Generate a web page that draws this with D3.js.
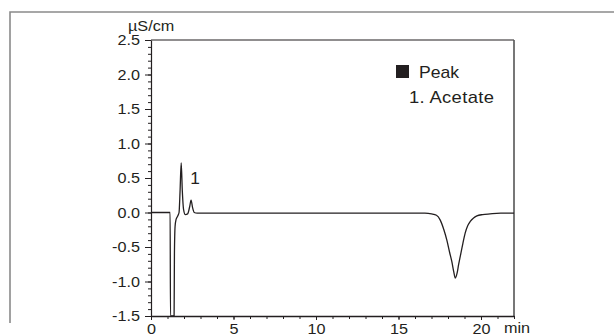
<!DOCTYPE html>
<html><head><meta charset="utf-8">
<script src="https://cdn.jsdelivr.net/npm/d3@7"></script>
<style>
html,body{margin:0;padding:0;background:#fff;}
text{font-family:"Liberation Sans",Arial,Helvetica,sans-serif;fill:#231f20;}
</style>
</head><body>
<svg id="chart" width="614" height="335"></svg>
<script>
// ---- data ----
const times  = [0, 1.16, 1.18, 1.40, 1.42, 1.46, 1.52, 1.62, 1.70, 1.76, 1.83, 1.90, 1.97, 2.08, 2.22, 2.34, 2.43, 2.52, 2.62, 2.80, 5, 10, 15, 16.6, 17.0, 17.3, 17.53, 17.75, 17.93, 18.10, 18.23, 18.35, 18.44, 18.55, 18.64, 18.74, 18.90, 19.04, 19.20, 19.35, 19.55, 19.75, 20.1, 20.55, 21.2, 22];
const signal = [0, 0, -1.5, -1.5, -0.6, -0.2, -0.1, -0.05, 0.0, 0.3, 0.72, 0.3, 0.05, -0.03, -0.02, 0.08, 0.18, 0.07, 0.0, -0.01, -0.01, -0.01, -0.01, -0.01, -0.02, -0.04, -0.11, -0.25, -0.40, -0.58, -0.71, -0.86, -0.95, -0.88, -0.76, -0.64, -0.45, -0.30, -0.19, -0.13, -0.08, -0.05, -0.03, -0.02, -0.01, -0.01];
const yTickValues = [-1.5, -1.0, -0.5, 0.0, 0.5, 1.0, 1.5, 2.0, 2.5];
const xTickValues = [0, 5, 10, 15, 20];
const peakLabels = [{t: 2.38, v: 0.42, label: "1"}];
const legendTitle = "Peak";
const legendItems = ["1. Acetate"];
const yUnit = "µS/cm";
const xUnit = "min";

// ---- layout ----
const svg = d3.select("#chart");
const L = 151, R = 514, T = 40, B = 316;
const SX = 1.08, FS = 15;
const x = d3.scaleLinear().domain([0, 22]).range([L, R]);
const y = d3.scaleLinear().domain([-1.5, 2.5]).range([B, T]);

function stretch(sel, sx) {
  sel.each(function () {
    const t = d3.select(this);
    const tx = +t.attr("x") || 0, ty = +t.attr("y") || 0;
    t.attr("x", 0).attr("y", 0).attr("transform", `translate(${tx},${ty}) scale(${sx},1)`);
  });
}

// outer frame
svg.append("path").attr("d", "M10,323V12H620").attr("fill", "none")
  .attr("stroke", "#8a8a8a").attr("stroke-width", 1.6);

// plot frame top / right
svg.append("line").attr("x1", L).attr("x2", R).attr("y1", T).attr("y2", T)
  .attr("stroke", "#231f20").attr("stroke-width", 1.2);
svg.append("line").attr("x1", R).attr("x2", R).attr("y1", T).attr("y2", B)
  .attr("stroke", "#555").attr("stroke-width", 1.6);

// clip
svg.append("clipPath").attr("id", "clip").append("rect")
  .attr("x", L).attr("y", T).attr("width", R - L).attr("height", B - T);

// curve
const pts = times.map((t, i) => [t, signal[i]]);
const line = d3.line().x(d => x(d[0])).y(d => y(d[1])).curve(d3.curveMonotoneX);
svg.append("path").datum(pts).attr("d", line).attr("fill", "none")
  .attr("stroke", "#231f20").attr("stroke-width", 1.3).attr("clip-path", "url(#clip)");

// y minor ticks
const yMinor = d3.range(-15, 26).map(v => v / 10);
svg.append("g").attr("transform", `translate(${L},0)`)
  .call(d3.axisLeft(y).tickValues(yMinor).tickSize(3).tickFormat(""))
  .call(g => g.select(".domain").remove())
  .selectAll("line").attr("stroke", "#231f20");
// y major axis
const gy = svg.append("g").attr("transform", `translate(${L},0)`)
  .call(d3.axisLeft(y).tickValues(yTickValues).tickSizeInner(6).tickSizeOuter(0)
    .tickPadding(5).tickFormat(d3.format(".1f")));
gy.select(".domain").attr("stroke", "#231f20").attr("stroke-width", 1.2);
gy.selectAll("line").attr("stroke", "#231f20");
gy.selectAll("text").attr("font-size", FS).attr("font-family", null).attr("fill", "#231f20")
  .text(d => d3.format(".1f")(d).replace("−", "-"));
stretch(gy.selectAll("text"), SX);

// x minor ticks
const xMinor = d3.range(0, 23);
svg.append("g").attr("transform", `translate(0,${B})`)
  .call(d3.axisBottom(x).tickValues(xMinor).tickSize(3).tickFormat(""))
  .call(g => g.select(".domain").remove())
  .selectAll("line").attr("stroke", "#231f20");
// x major axis
const gx = svg.append("g").attr("transform", `translate(0,${B})`)
  .call(d3.axisBottom(x).tickValues(xTickValues).tickSizeInner(4).tickSizeOuter(0).tickPadding(3));
gx.select(".domain").attr("stroke", "#231f20").attr("stroke-width", 1.4);
gx.selectAll("line").attr("stroke", "#231f20");
gx.selectAll("text").attr("font-size", FS).attr("font-family", null).attr("fill", "#231f20");
stretch(gx.selectAll("text"), SX);

// units
const tu = svg.append("text").attr("x", 128).attr("y", 31).attr("font-size", FS).text(yUnit);
stretch(tu, SX);
const tm = svg.append("text").attr("x", 504).attr("y", 333).attr("font-size", FS).text(xUnit);
stretch(tm, SX);

// peak labels
peakLabels.forEach(p => {
  const t = svg.append("text").attr("x", x(p.t)).attr("y", y(p.v)).attr("font-size", 16).text(p.label);
  stretch(t, SX);
});

// legend
svg.append("rect").attr("x", 396).attr("y", 65).attr("width", 13).attr("height", 13).attr("fill", "#231f20");
const lt = svg.append("text").attr("x", 419).attr("y", 78).attr("font-size", 16).text(legendTitle);
stretch(lt, 1.1);
legendItems.forEach((s, i) => {
  const t = svg.append("text").attr("x", 409).attr("y", 103 + i * 25).attr("font-size", 16)
    .attr("letter-spacing", 0.3).text(s);
  stretch(t, 1.15);
});
</script>
</body></html>
